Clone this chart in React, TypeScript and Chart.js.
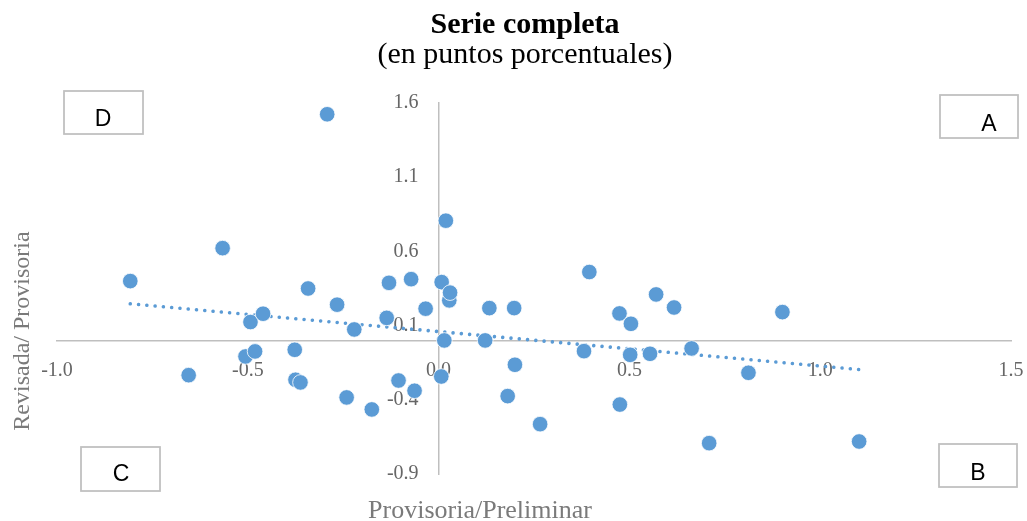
import { useEffect, useRef } from "react";
import { Chart, registerables } from "chart.js";

Chart.register(...registerables);

// Provisoria/Preliminar (x) vs Revisada/Provisoria (y), puntos porcentuales
const provisionalValues = [
  -0.808, -0.655, -0.566, -0.506, -0.493, -0.481, -0.46, -0.377, -0.375, -0.362,
  -0.342, -0.292, -0.266, -0.241, -0.221, -0.175, -0.136, -0.13, -0.105, -0.072,
  -0.063, -0.034, 0.007, 0.008, 0.015, 0.019, 0.028, 0.03, 0.122, 0.133,
  0.181, 0.198, 0.2, 0.266, 0.381, 0.395, 0.474, 0.475, 0.502, 0.504,
  0.554, 0.57, 0.617, 0.663, 0.709, 0.812, 0.901, 1.102,
];
const revisedValues = [
  0.4, -0.234, 0.622, -0.108, 0.124, -0.074, 0.18, -0.063, -0.265, -0.283,
  0.35, 1.524, 0.241, -0.384, 0.074, -0.465, 0.152, 0.388, -0.27, 0.413,
  -0.339, 0.214, -0.243, 0.393, 0.0, 0.807, 0.27, 0.322, 0.0, 0.218,
  -0.375, 0.218, -0.164, -0.564, -0.072, 0.461, 0.182, -0.432, -0.097, 0.112,
  -0.09, 0.31, 0.222, -0.054, -0.692, -0.218, 0.191, -0.681,
];

// linear trend
const trendX = [-0.808, 1.102];
const trendY = [0.247, -0.196];

const xTicks = [-1.0, -0.5, 0.0, 0.5, 1.0, 1.5];
const yTicks = [-0.9, -0.4, 0.1, 0.6, 1.1, 1.6];

const titleText = "Serie completa";
const subtitleText = "(en puntos porcentuales)";
const xTitle = "Provisoria/Preliminar";
const yTitle = "Revisada/ Provisoria";
const quadrantLabels = ["A", "B", "C", "D"];

const BLUE = "#5b9bd5";
const SERIF = '"Liberation Serif", "Times New Roman", serif';

// box layout for quadrant labels (x, y, w, h, text x, text y)
const boxLayout: Record<string, number[]> = {
  A: [940, 95, 78, 43, 989, 125],
  B: [939, 444, 78, 43, 978, 474],
  C: [81, 447, 79, 44, 121, 475],
  D: [64, 91, 79, 43, 103, 120],
};

const overlayPlugin = {
  id: "overlay",
  afterDraw(chart: any) {
    const ctx = chart.ctx as CanvasRenderingContext2D;
    ctx.save();
    ctx.textAlign = "center";
    ctx.textBaseline = "alphabetic";
    ctx.fillStyle = "#000000";
    ctx.font = `bold 30px ${SERIF}`;
    ctx.fillText(titleText, 525, 33);
    ctx.font = `30px ${SERIF}`;
    ctx.fillText(subtitleText, 525, 63);

    ctx.fillStyle = "#7a7a7a";
    ctx.font = `26px ${SERIF}`;
    ctx.fillText(xTitle, 480, 518);

    ctx.save();
    ctx.translate(29, 331);
    ctx.rotate(-Math.PI / 2);
    ctx.font = `24px ${SERIF}`;
    ctx.fillText(yTitle, 0, 0);
    ctx.restore();

    quadrantLabels.forEach((q) => {
      const [bx, by, bw, bh, tx, ty] = boxLayout[q];
      ctx.fillStyle = "#ffffff";
      ctx.fillRect(bx, by, bw, bh);
      ctx.strokeStyle = "#bfbfbf";
      ctx.lineWidth = 1.75;
      ctx.strokeRect(bx, by, bw, bh);
      ctx.fillStyle = "#000000";
      ctx.font = '23px "Liberation Sans", Arial, sans-serif';
      ctx.textBaseline = "middle";
      ctx.fillText(q, tx, ty);
    });
    ctx.restore();
  },
};

export default function App() {
  const canvasRef = useRef<HTMLCanvasElement | null>(null);

  useEffect(() => {
    if (!canvasRef.current) return;
    const tickFont = { family: SERIF, size: 20 };
    const chart = new Chart(canvasRef.current, {
      type: "scatter",
      data: {
        datasets: [
          {
            type: "scatter",
            label: "Serie completa",
            data: provisionalValues.map((x, i) => ({ x, y: revisedValues[i] })),
            backgroundColor: BLUE,
            borderColor: "#ffffff",
            borderWidth: 0.8,
            pointRadius: 7.8,
            pointHoverRadius: 7.8,
            order: 1,
          } as any,
          {
            type: "line",
            label: "Tendencia",
            data: trendX.map((x, i) => ({ x, y: trendY[i] })),
            borderColor: BLUE,
            borderWidth: 3.6,
            borderDash: [0.01, 8.3],
            borderCapStyle: "round",
            pointRadius: 0,
            fill: false,
            order: 2,
          } as any,
        ],
      },
      options: {
        animation: false,
        responsive: false,
        layout: { padding: { left: 57, right: 31, top: 103, bottom: 47 } },
        plugins: {
          legend: { display: false },
          tooltip: { enabled: false },
          title: { display: false },
        },
        scales: {
          x: {
            type: "linear",
            min: -1.0,
            max: 1.5,
            position: { y: 0 } as any,
            afterBuildTicks: (s: any) => {
              s.ticks = xTicks.map((v) => ({ value: v }));
            },
            ticks: {
              callback: (v: any) => Number(v).toFixed(1),
              font: tickFont,
              color: "#666666",
              padding: 18,
              autoSkip: false,
              maxRotation: 0,
            },
            grid: { display: true, color: "rgba(0,0,0,0)", drawTicks: false },
            border: { display: true, color: "#bfbfbf", width: 1.5 },
          },
          y: {
            type: "linear",
            min: -0.9,
            max: 1.6,
            position: { x: 0 } as any,
            afterBuildTicks: (s: any) => {
              s.ticks = yTicks.map((v) => ({ value: v }));
            },
            ticks: {
              // en-spaces keep the right-aligned labels clear of the axis line
              callback: (v: any) => Number(v).toFixed(1) + "\u2002\u2002",
              font: tickFont,
              color: "#666666",
              padding: 20,
              autoSkip: false,
            },
            grid: { display: true, color: "rgba(0,0,0,0)", drawTicks: false },
            border: { display: true, color: "#bfbfbf", width: 1.5 },
          },
        },
      },
      plugins: [overlayPlugin],
    });
    return () => chart.destroy();
  }, []);

  return (
    <div
      style={{
        position: "absolute",
        left: 0,
        top: 0,
        width: 1027,
        height: 521,
        overflow: "hidden",
        background: "#ffffff",
      }}
    >
      <canvas ref={canvasRef} width={1042} height={521} style={{ display: "block" }} />
    </div>
  );
}
